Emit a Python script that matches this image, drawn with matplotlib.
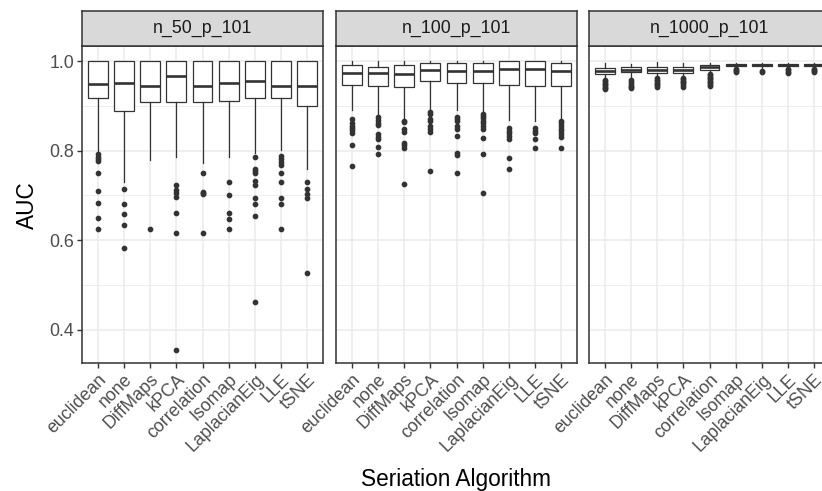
import matplotlib
matplotlib.use("Agg")
import matplotlib.pyplot as plt
from matplotlib.ticker import FixedLocator

plt.rcParams['font.family'] = ['Liberation Sans', 'DejaVu Sans']

categories = ["euclidean", "none", "DiffMaps", "kPCA", "correlation",
              "Isomap", "LaplacianEig", "LLE", "tSNE"]
panels = ["n_50_p_101", "n_100_p_101", "n_1000_p_101"]

# ---- panel n_50_p_101 ----
p1_q1 = [0.917, 0.889, 0.909, 0.908, 0.908, 0.911, 0.917, 0.917, 0.900]
p1_med = [0.948, 0.951, 0.945, 0.966, 0.945, 0.951, 0.955, 0.945, 0.945]
p1_q3 = [1.0, 1.0, 1.0, 1.0, 1.0, 1.0, 1.0, 1.0, 1.0]
p1_lo = [0.798, 0.731, 0.778, 0.786, 0.773, 0.786, 0.795, 0.801, 0.760]
p1_hi = [1.0, 1.0, 1.0, 1.0, 1.0, 1.0, 1.0, 1.0, 1.0]
p1_out = [
    [0.792, 0.786, 0.781, 0.777, 0.750, 0.710, 0.682, 0.650, 0.625],
    [0.714, 0.680, 0.658, 0.635, 0.583],
    [0.625],
    [0.724, 0.711, 0.705, 0.696, 0.660, 0.616, 0.356],
    [0.750, 0.707, 0.705, 0.703, 0.616],
    [0.731, 0.700, 0.660, 0.648, 0.625],
    [0.786, 0.760, 0.754, 0.750, 0.733, 0.723, 0.695, 0.680, 0.653, 0.462],
    [0.789, 0.782, 0.775, 0.767, 0.750, 0.730, 0.695, 0.680, 0.625],
    [0.731, 0.714, 0.704, 0.695, 0.527],
]

# ---- panel n_100_p_101 ----
p2_q1 = [0.946, 0.945, 0.941, 0.955, 0.952, 0.950, 0.946, 0.944, 0.945]
p2_med = [0.973, 0.973, 0.972, 0.979, 0.978, 0.978, 0.982, 0.982, 0.978]
p2_q3 = [0.991, 0.987, 0.990, 0.996, 0.995, 0.995, 1.0, 1.0, 0.996]
p2_lo = [0.891, 0.877, 0.870, 0.891, 0.890, 0.885, 0.868, 0.866, 0.870]
p2_hi = [1.0, 1.0, 1.0, 1.0, 1.0, 1.0, 1.0, 1.0, 1.0]
p2_out = [
    [0.870, 0.862, 0.855, 0.850, 0.845, 0.840, 0.812, 0.766],
    [0.874, 0.868, 0.862, 0.857, 0.836, 0.831, 0.825, 0.807, 0.792],
    [0.867, 0.863, 0.848, 0.842, 0.818, 0.812, 0.806, 0.725],
    [0.887, 0.882, 0.870, 0.866, 0.856, 0.849, 0.842, 0.754],
    [0.876, 0.870, 0.865, 0.855, 0.849, 0.833, 0.795, 0.790, 0.750],
    [0.882, 0.877, 0.872, 0.867, 0.861, 0.855, 0.849, 0.828, 0.792, 0.705],
    [0.850, 0.844, 0.839, 0.833, 0.827, 0.784, 0.758],
    [0.850, 0.844, 0.839, 0.825, 0.806],
    [0.867, 0.861, 0.855, 0.849, 0.843, 0.837, 0.830, 0.806],
]

# ---- panel n_1000_p_101 ----
p3_q1 = [0.972, 0.975, 0.973, 0.974, 0.980, 0.989, 0.989, 0.989, 0.989]
p3_med = [0.978, 0.981, 0.979, 0.980, 0.986, 0.992, 0.992, 0.992, 0.992]
p3_q3 = [0.985, 0.986, 0.986, 0.986, 0.991, 0.994, 0.994, 0.994, 0.994]
p3_lo = [0.965, 0.962, 0.964, 0.966, 0.973, 0.985, 0.985, 0.985, 0.985]
p3_hi = [0.996, 0.993, 0.998, 0.996, 0.996, 0.996, 0.996, 0.996, 0.996]
p3_out = [
    [0.958, 0.955, 0.952, 0.949, 0.946, 0.943, 0.940, 0.938],
    [0.957, 0.953, 0.949, 0.945, 0.941, 0.939],
    [0.961, 0.958, 0.955, 0.952, 0.949, 0.946, 0.943],
    [0.962, 0.959, 0.956, 0.953, 0.950, 0.947, 0.943],
    [0.971, 0.968, 0.965, 0.962, 0.959, 0.956, 0.953, 0.950, 0.947, 0.945],
    [0.983, 0.980, 0.977, 0.975],
    [0.977, 0.975],
    [0.982, 0.979, 0.976, 0.974],
    [0.983, 0.980, 0.977, 0.975],
]

panel_data = [
    (p1_q1, p1_med, p1_q3, p1_lo, p1_hi, p1_out),
    (p2_q1, p2_med, p2_q3, p2_lo, p2_hi, p2_out),
    (p3_q1, p3_med, p3_q3, p3_lo, p3_hi, p3_out),
]

W, H = 822, 491
fig = plt.figure(figsize=(W / 100, H / 100), dpi=100)

lefts = [82, 336, 589]
pw = 241
top_px, bot_px = 46, 363
strip_top = 11

dark = "#333333"
grid_col = "#EBEBEB"
tick_fs = 12.8
title_fs = 16.3

for i, (name, (q1, med, q3, lo, hi, out)) in enumerate(zip(panels, panel_data)):
    ax = fig.add_axes([lefts[i] / W, 1 - bot_px / H, pw / W, (bot_px - top_px) / H])
    stats = []
    for k in range(len(categories)):
        stats.append(dict(med=med[k], q1=q1[k], q3=q3[k], whislo=lo[k],
                          whishi=hi[k], fliers=out[k], label=categories[k]))
    pos = list(range(1, len(categories) + 1))
    ax.bxp(stats, positions=pos, widths=0.75, showcaps=False, patch_artist=True,
           boxprops=dict(facecolor="white", edgecolor=dark, linewidth=0.9),
           medianprops=dict(color=dark, linewidth=1.9),
           whiskerprops=dict(color=dark, linewidth=0.9),
           flierprops=dict(marker="o", markersize=3.1, markerfacecolor=dark,
                           markeredgecolor=dark, linestyle="none"),
           zorder=3)
    ax.set_xlim(0.4, 9.6)
    ax.set_ylim(0.326, 1.0335)
    ax.set_xticks(pos)
    ax.set_xticklabels(categories, rotation=45, ha="right", va="top",
                       rotation_mode="anchor", fontsize=tick_fs, color="#4D4D4D")
    ax.yaxis.set_major_locator(FixedLocator([0.4, 0.6, 0.8, 1.0]))
    ax.yaxis.set_minor_locator(FixedLocator([0.5, 0.7, 0.9]))
    if i == 0:
        ax.set_yticklabels(["0.4", "0.6", "0.8", "1.0"], fontsize=tick_fs, color="#4D4D4D")
    else:
        ax.tick_params(axis="y", which="major", labelleft=False, left=False)
    ax.tick_params(axis="y", which="minor", left=False)
    ax.tick_params(axis="both", which="major", length=3.8, width=1.0, color=dark,
                   direction="out", pad=2)
    ax.grid(True, which="major", color=grid_col, linewidth=1.1, zorder=0)
    ax.grid(True, which="minor", axis="y", color=grid_col, linewidth=0.6, zorder=0)
    ax.set_axisbelow(True)
    for sp in ax.spines.values():
        sp.set_color(dark)
        sp.set_linewidth(1.1)
    ax.set_xlabel("")

    sax = fig.add_axes([lefts[i] / W, 1 - top_px / H, pw / W, (top_px - strip_top) / H])
    sax.set_facecolor("#D9D9D9")
    sax.set_xticks([])
    sax.set_yticks([])
    for sp in sax.spines.values():
        sp.set_color(dark)
        sp.set_linewidth(1.1)
    sax.text(0.5, 0.5, name, transform=sax.transAxes, ha="center", va="center",
             fontsize=tick_fs, color="#1A1A1A")

fig.text(27 / W, 1 - 205 / H, "AUC", rotation=90, ha="center", va="center",
         fontsize=title_fs, color="black")
fig.text(456 / W, 1 - 486 / H, "Seriation Algorithm", ha="center", va="baseline",
         fontsize=title_fs, color="black")

fig.savefig("out.png", dpi=100)
